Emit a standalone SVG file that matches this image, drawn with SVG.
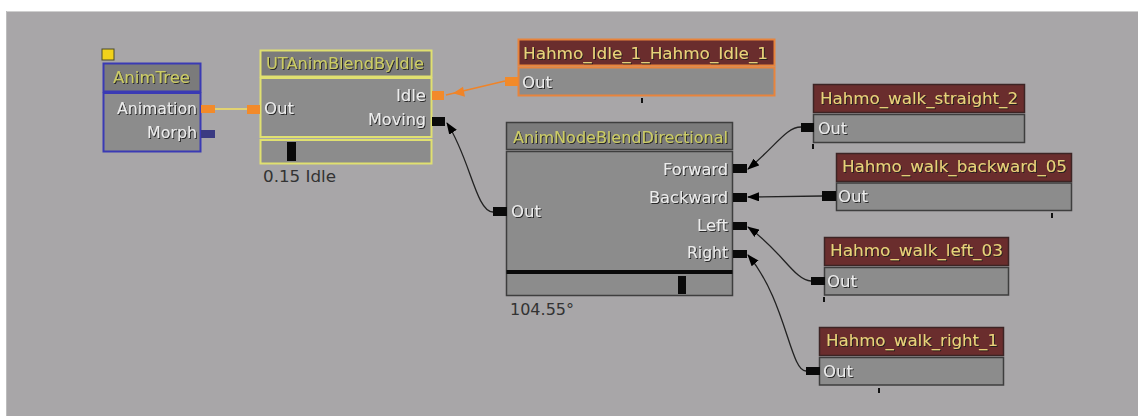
<svg xmlns="http://www.w3.org/2000/svg" width="1138" height="416" viewBox="0 0 1138 416">
<defs>
<filter id="sh" x="-10%" y="-30%" width="120%" height="160%">
<feDropShadow dx="1" dy="1" stdDeviation="0.4" flood-color="#1a1a1a" flood-opacity="0.9"/>
</filter>
<marker id="ah" viewBox="0 0 12 9" refX="11" refY="4.5" markerWidth="12" markerHeight="9" markerUnits="userSpaceOnUse" orient="auto">
<path d="M0,0 L12,4.5 L0,9 z" fill="#000"/>
</marker>
<style>
.bg{fill:#a8a6a8}
.ttl{fill:#7b7b7b}
.body{fill:#8c8c8c}
.red{fill:#6a2d2d;stroke:#3c2424;stroke-width:1.5}
.gbody{fill:#8c8c8c;stroke:#3e3e3e;stroke-width:1.5}
.t{font-family:"DejaVu Sans","Liberation Sans",sans-serif;font-size:15.5px;filter:url(#sh)}
.tt{fill:#cccc66}
.ht{fill:#e8d27a}
.pl{fill:#ececec}
.pr{text-anchor:end}
.cap{font-family:"DejaVu Sans","Liberation Sans",sans-serif;font-size:16px;fill:#333}
.pk{fill:#0a0a0a}
.po{fill:#f28a2a}
.tick{stroke:#111;stroke-width:2}
.c{fill:none;stroke:#222;stroke-width:1.3;marker-end:url(#ah)}
</style>
</defs>
<rect x="0" y="0" width="1138" height="416" fill="#ffffff"/>
<rect class="bg" x="6" y="11" width="1132" height="405"/>
<line x1="6" y1="11.5" x2="1138" y2="11.5" stroke="#cfcfcf" stroke-width="1"/>
<line x1="6.5" y1="11" x2="6.5" y2="416" stroke="#bdbdbd" stroke-width="1"/>

<g id="connectors">
<line x1="215" y1="109" x2="247" y2="109" stroke="#e2d270" stroke-width="2"/>
<path d="M505,81 L446,95" fill="none" stroke="#f08428" stroke-width="1.6"/>
<path d="M453,93.3 L463,86.8 L465,96.8 z" fill="#f08428"/>
<path class="c" d="M493,212 C476,212 470,158 447,123"/>
<path class="c" d="M801,127 C786,127 776,146 748,169"/>
<path class="c" d="M822,196 L748,197"/>
<path class="c" d="M811,281 C795,281 781,250 748,227"/>
<path class="c" d="M806,371 C790,371 786,300 748,255"/>
</g>

<g id="node-animtree">
<rect x="102" y="49" width="12" height="11" fill="#f2d21a" stroke="#4a4a2a" stroke-width="1"/>
<rect class="ttl" x="103.5" y="63.5" width="97" height="28" stroke="#3a3ab4" stroke-width="2"/>
<rect class="body" x="103.5" y="93" width="97" height="58.5" stroke="#3a3ab4" stroke-width="2"/>
<text class="t tt" x="113" y="83" textLength="77" lengthAdjust="spacingAndGlyphs">AnimTree</text>
<text class="t pl pr" x="197" y="114" textLength="80" lengthAdjust="spacingAndGlyphs">Animation</text>
<text class="t pl pr" x="197" y="138" textLength="50" lengthAdjust="spacingAndGlyphs">Morph</text>
<rect class="po" x="201" y="105" width="14" height="8"/>
<rect x="201" y="130" width="14" height="8" fill="#3a3a82"/>
</g>

<g id="node-blendbyidle">
<rect class="ttl" x="260.5" y="50.5" width="171" height="26" stroke="#e0e070" stroke-width="2"/>
<rect class="body" x="260.5" y="78" width="171" height="59" stroke="#e0e070" stroke-width="2"/>
<rect class="body" x="260.5" y="140" width="171" height="23.5" stroke="#e0e070" stroke-width="2"/>
<rect class="pk" x="287" y="142" width="9" height="19"/>
<text class="t tt" x="266" y="69" textLength="158" lengthAdjust="spacingAndGlyphs">UTAnimBlendByIdle</text>
<text class="t pl" x="264" y="114" textLength="30" lengthAdjust="spacingAndGlyphs">Out</text>
<text class="t pl pr" x="426" y="101" textLength="30" lengthAdjust="spacingAndGlyphs">Idle</text>
<text class="t pl pr" x="426" y="125" textLength="58" lengthAdjust="spacingAndGlyphs">Moving</text>
<rect class="po" x="247" y="105" width="13" height="9"/>
<rect class="po" x="432" y="91" width="12" height="9"/>
<rect class="pk" x="432" y="117" width="13" height="9"/>
<text class="cap" x="263" y="182" textLength="73" lengthAdjust="spacingAndGlyphs">0.15 Idle</text>
</g>

<g id="node-idle">
<rect x="518.5" y="39.5" width="256" height="26" fill="#6a2d2d" stroke="#e8843c" stroke-width="2"/>
<rect class="body" x="518.5" y="67.5" width="256" height="28" stroke="#e8843c" stroke-width="2"/>
<text class="t ht" x="523" y="59" textLength="245" lengthAdjust="spacingAndGlyphs">Hahmo_Idle_1_Hahmo_Idle_1</text>
<text class="t pl" x="522" y="88" textLength="30" lengthAdjust="spacingAndGlyphs">Out</text>
<rect class="po" x="505" y="77" width="13" height="9"/>
<line class="tick" x1="642" y1="98" x2="642" y2="103"/>
</g>

<g id="node-directional">
<rect x="506.5" y="122.5" width="226" height="27" fill="#7b7b7b" stroke="#3e3e3e" stroke-width="1.5"/>
<rect class="gbody" x="506.5" y="151.5" width="226" height="144"/>
<rect x="506.5" y="270" width="226" height="4" fill="#0a0a0a"/>
<rect class="pk" x="678" y="276" width="8" height="18"/>
<text class="t tt" x="513" y="143" textLength="215" lengthAdjust="spacingAndGlyphs">AnimNodeBlendDirectional</text>
<text class="t pl" x="511" y="217" textLength="30" lengthAdjust="spacingAndGlyphs">Out</text>
<text class="t pl pr" x="728" y="175" textLength="65" lengthAdjust="spacingAndGlyphs">Forward</text>
<text class="t pl pr" x="728" y="203" textLength="79" lengthAdjust="spacingAndGlyphs">Backward</text>
<text class="t pl pr" x="728" y="231" textLength="31" lengthAdjust="spacingAndGlyphs">Left</text>
<text class="t pl pr" x="728" y="258" textLength="41" lengthAdjust="spacingAndGlyphs">Right</text>
<rect class="pk" x="493" y="207" width="14" height="9"/>
<rect class="pk" x="733" y="164" width="14" height="9"/>
<rect class="pk" x="733" y="193" width="14" height="9"/>
<rect class="pk" x="733" y="222" width="14" height="8"/>
<rect class="pk" x="733" y="250" width="14" height="8"/>
<text class="cap" x="510" y="315" textLength="64" lengthAdjust="spacingAndGlyphs">104.55°</text>
</g>

<g id="node-walk-straight">
<rect class="red" x="813.5" y="84.5" width="211" height="28"/>
<rect class="gbody" x="813.5" y="114.5" width="211" height="28"/>
<text class="t ht" x="820" y="104" textLength="198" lengthAdjust="spacingAndGlyphs">Hahmo_walk_straight_2</text>
<text class="t pl" x="818" y="134" textLength="29" lengthAdjust="spacingAndGlyphs">Out</text>
<rect class="pk" x="801" y="123" width="13" height="9"/>
<line class="tick" x1="813" y1="144" x2="813" y2="149"/>
</g>

<g id="node-walk-backward">
<rect class="red" x="836.5" y="153.5" width="235" height="28"/>
<rect class="gbody" x="836.5" y="183" width="235" height="27.5"/>
<text class="t ht" x="842" y="172" textLength="225" lengthAdjust="spacingAndGlyphs">Hahmo_walk_backward_05</text>
<text class="t pl" x="838" y="202" textLength="30" lengthAdjust="spacingAndGlyphs">Out</text>
<rect class="pk" x="822" y="191" width="14" height="10"/>
<line class="tick" x1="1052" y1="213" x2="1052" y2="218"/>
</g>

<g id="node-walk-left">
<rect class="red" x="824.5" y="237.5" width="184" height="28"/>
<rect class="gbody" x="824.5" y="267.5" width="184" height="27.5"/>
<text class="t ht" x="830" y="256" textLength="173" lengthAdjust="spacingAndGlyphs">Hahmo_walk_left_03</text>
<text class="t pl" x="827" y="287" textLength="30" lengthAdjust="spacingAndGlyphs">Out</text>
<rect class="pk" x="811" y="277" width="14" height="8"/>
<line class="tick" x1="824" y1="297" x2="824" y2="302"/>
</g>

<g id="node-walk-right">
<rect class="red" x="819.5" y="327.5" width="184" height="28"/>
<rect class="gbody" x="819.5" y="357.5" width="184" height="27.5"/>
<text class="t ht" x="826" y="346" textLength="172" lengthAdjust="spacingAndGlyphs">Hahmo_walk_right_1</text>
<text class="t pl" x="823" y="377" textLength="30" lengthAdjust="spacingAndGlyphs">Out</text>
<rect class="pk" x="806" y="367" width="14" height="8"/>
<line class="tick" x1="879" y1="388" x2="879" y2="393"/>
</g>
</svg>
